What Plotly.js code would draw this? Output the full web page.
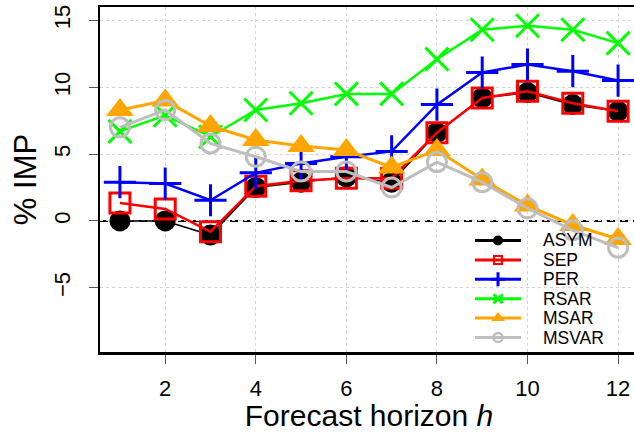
<!DOCTYPE html>
<html>
<head>
<meta charset="utf-8">
<script src="https://cdn.plot.ly/plotly-3.0.1.min.js"></script>
<style>
html, body { margin: 0; padding: 0; overflow: hidden; background: #fff; }
#chart { width: 660px; height: 432px; }
</style>
</head>
<body>
<div id="chart"></div>
<script>
// ---- data ----
var horizon = [1, 2, 3, 4, 5, 6, 7, 8, 9, 10, 11, 12];
var seriesNames = ["ASYM", "SEP", "PER", "RSAR", "MSAR", "MSVAR"];
var ASYM  = [0.0, 0.0, -1.05, 2.5, 2.9, 3.3, 2.9, 6.6, 9.2, 9.6, 8.7, 8.2];
var SEP   = [1.35, 0.9, -0.8, 2.6, 3.0, 3.2, 3.2, 6.6, 9.2, 9.7, 8.8, 8.2];
var PER   = [2.9, 2.8, 1.55, 3.6, 4.3, 4.8, 5.2, 8.7, 11.1, 11.7, 11.2, 10.5];
var RSAR  = [6.7, 7.9, 6.3, 8.3, 8.8, 9.5, 9.5, 12.1, 14.3, 14.6, 14.3, 13.3];
var MSAR  = [8.3, 9.0, 7.1, 6.05, 5.6, 5.3, 4.0, 5.3, 3.1, 1.15, -0.3, -1.35];
var MSVAR = [7.0, 8.3, 5.8, 4.8, 3.7, 3.7, 2.5, 4.4, 2.9, 0.95, -0.7, -2.0];
var xTicks = [2, 4, 6, 8, 10, 12];
var yTicks = [-5, 0, 5, 10, 15];

// ---- styles ----
var FONT = "Liberation Sans, Arial, Helvetica, sans-serif";
var styles = [
  {color: "#000000", lw: 1.6, sym: "circle",         size: 21, mlw: 0,   lsym: 10, lmlw: 0},
  {color: "#FF0000", lw: 2.5, sym: "square-open",    size: 20, mlw: 3,   lsym: 8,  lmlw: 2},
  {color: "#0000FF", lw: 2.5, sym: "cross-thin-open",size: 23, mlw: 3,   lsym: 10, lmlw: 3},
  {color: "#00FF00", lw: 2.5, sym: "x-thin-open",    size: 23, mlw: 3,   lsym: 9,  lmlw: 3},
  {color: "#FFA500", lw: 3,   sym: "triangle-up",    size: 24, mlw: 0,   lsym: 12, lmlw: 0},
  {color: "#BEBEBE", lw: 3,   sym: "circle-open",    size: 19, mlw: 3,   lsym: 9,  lmlw: 2.5}
];
var seriesValues = [ASYM, SEP, PER, RSAR, MSAR, MSVAR];

var traces = [];
seriesValues.forEach(function (vals, i) {
  var s = styles[i];
  traces.push({
    type: "scatter", mode: "lines+markers", name: seriesNames[i],
    x: horizon, y: vals, showlegend: false, cliponaxis: false,
    line: {color: s.color, width: s.lw},
    marker: {symbol: s.sym, size: s.size, color: s.color,
             line: {color: s.color, width: s.mlw}}
  });
});

// ---- hand-built legend (R style, compact) on an overlay 0..1 axis pair ----
var plotL = 100, plotR = 638, plotT = 7, plotB = 352;
var pw = plotR - plotL, ph = plotB - plotT;
var keyX0 = (475 - plotL) / pw, keyX1 = (521 - plotL) / pw, keyXm = (keyX0 + keyX1) / 2;
var textX = (541 - plotL) / pw;
var legTop = 240.5, legStep = 19.4;
var annotations = [];
seriesNames.forEach(function (nm, i) {
  var s = styles[i];
  var yy = (plotB - (legTop + i * legStep)) / ph;
  traces.push({
    type: "scatter", mode: "lines+markers", xaxis: "x2", yaxis: "y2",
    x: [keyX0, keyXm, keyX1], y: [yy, yy, yy], showlegend: false, hoverinfo: "skip",
    line: {color: s.color, width: 3},
    marker: {symbol: s.sym, size: s.lsym, color: s.color, opacity: [0, 1, 0],
             line: {color: s.color, width: s.lmlw}}
  });
  annotations.push({
    xref: "paper", yref: "paper", x: textX, y: yy, xanchor: "left", yanchor: "middle",
    text: nm, showarrow: false, font: {family: FONT, size: 17.5, color: "#000"}
  });
});

var axisCommon = {
  showline: true, linecolor: "#000", linewidth: 2.5, mirror: true,
  ticks: "outside", ticklen: 9, tickwidth: 1, tickcolor: "#555",
  showgrid: true, gridcolor: "#d3d3d3", gridwidth: 1, griddash: "dot",
  zeroline: false, tickfont: {family: FONT, size: 22, color: "#000"}
};

var layout = {
  width: 660, height: 432,
  margin: {l: plotL, r: 660 - plotR, t: plotT, b: 432 - plotB},
  paper_bgcolor: "#fff", plot_bgcolor: "#fff",
  font: {family: FONT, color: "#000"},
  showlegend: false,
  xaxis: Object.assign({}, axisCommon, {
    range: [0.56, 12.44], tickmode: "array", tickvals: xTicks,
    ticklabelstandoff: 6,
    title: {text: "Forecast horizon <i>h</i>", font: {family: FONT, size: 30, color: "#000"}, standoff: 6}
  }),
  yaxis: Object.assign({}, axisCommon, {
    range: [-9.8, 16.0], tickmode: "array", tickvals: yTicks,
    tickangle: -90, ticklabelstandoff: 10,
    title: {text: "% IMP", font: {family: FONT, size: 31, color: "#000"}, standoff: 4}
  }),
  xaxis2: {overlaying: "x", range: [0, 1], visible: false, fixedrange: true},
  yaxis2: {overlaying: "y", range: [0, 1], visible: false, fixedrange: true},
  shapes: [{
    type: "line", xref: "paper", yref: "y", x0: 0, x1: 1, y0: 0, y1: 0,
    layer: "between", line: {color: "#000", width: 2, dash: "8px,5px"}
  }],
  annotations: annotations
};

Plotly.newPlot("chart", traces, layout, {staticPlot: true, displayModeBar: false});
</script>
</body>
</html>
